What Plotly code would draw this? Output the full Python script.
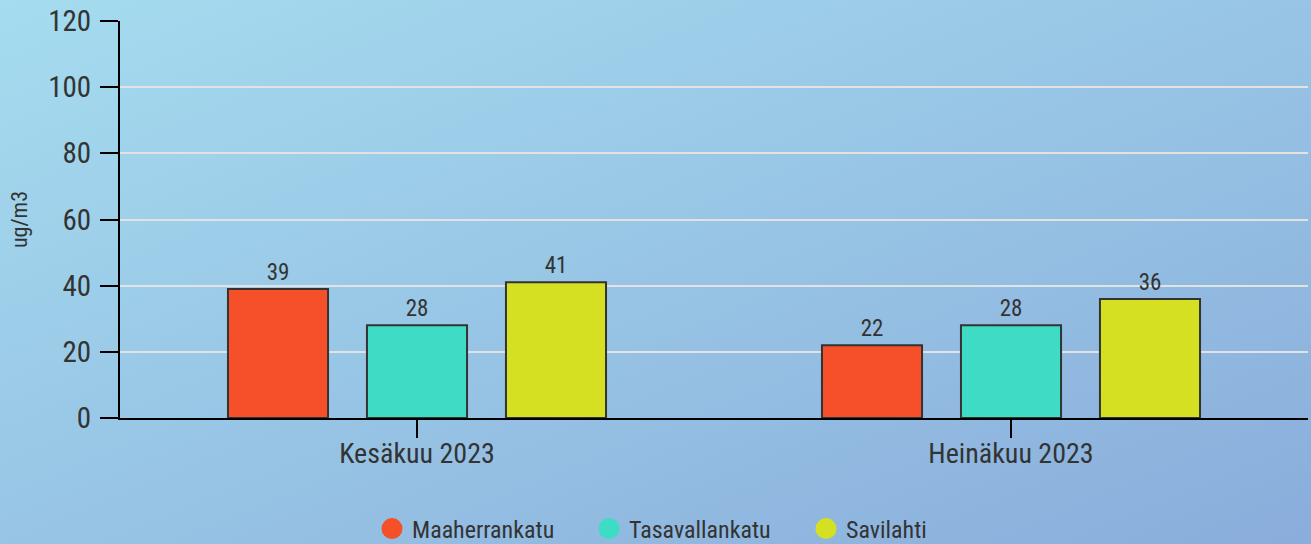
import plotly.graph_objects as go

categories = ["Kesäkuu 2023", "Heinäkuu 2023"]
series_names = ["Maaherrankatu", "Tasavallankatu", "Savilahti"]
series_values = [[39, 22], [28, 28], [41, 36]]
series_colors = ["#f5502a", "#3edcc4", "#d6e022"]
y_ticks = [0, 20, 40, 60, 80, 100, 120]

FONT = "Roboto Condensed, Liberation Sans Narrow, Roboto, sans-serif"

fig = go.Figure()
for name, vals, col in zip(series_names, series_values, series_colors):
    fig.add_trace(go.Bar(
        x=categories, y=vals, name=name, showlegend=False,
        marker=dict(color=col, line=dict(color="#333333", width=2)),
        text=[str(v) for v in vals], textposition="outside",
        textfont=dict(family=FONT, size=23, color="#333333"),
        cliponaxis=False,
    ))
for name, col in zip(series_names, series_colors):
    fig.add_trace(go.Scatter(
        x=[None], y=[None], mode="markers", name=name,
        marker=dict(color=col, size=22, symbol="circle", line=dict(color=col, width=5)),
    ))

svg = ("data:image/svg+xml;utf8,<svg xmlns='http://www.w3.org/2000/svg' width='1311' height='544'>"
       "<defs><linearGradient id='g' x1='0' y1='0' x2='1' y2='1'>"
       "<stop offset='0' stop-color='%23a5dcef'/><stop offset='1' stop-color='%238aaddb'/>"
       "</linearGradient></defs><rect width='1311' height='544' fill='url(%23g)'/></svg>")

fig.update_layout(
    width=1311, height=544,
    margin=dict(l=120, r=3, t=21, b=126, autoexpand=False),
    paper_bgcolor="#98c4e6", plot_bgcolor="rgba(0,0,0,0)",
    barmode="group", bargap=0.298, bargroupgap=0.28,
    font=dict(family=FONT, color="#333333"),
    images=[dict(source=svg, xref="paper", yref="paper", x=-120/1188, y=1 + 21/397,
                 sizex=1311/1188, sizey=544/397, sizing="stretch", layer="below",
                 xanchor="left", yanchor="top")],
    legend=dict(orientation="h", x=(372 - 120) / 1188, xanchor="left",
                yref="container", y=(544 - 529) / 544, yanchor="middle",
                entrywidth=172, entrywidthmode="pixels",
                font=dict(family=FONT, size=24, color="#333333"),
                itemsizing="trace", bgcolor="rgba(0,0,0,0)"),
    yaxis=dict(range=[0, 120], tickvals=y_ticks, showgrid=True, gridcolor="#e2e2e2", gridwidth=2,
               showline=True, linecolor="black", linewidth=2, ticks="outside", ticklen=18,
               tickcolor="black", tickwidth=2, zeroline=False, ticklabelstandoff=3,
               tickfont=dict(family=FONT, size=29, color="#333333"),
               title=dict(text="ug/m3", font=dict(family=FONT, size=22, color="#333333"), standoff=15)),
    xaxis=dict(showline=True, linecolor="black", linewidth=2, ticks="outside", ticklen=18,
               tickcolor="black", tickwidth=2, showgrid=False, ticklabelstandoff=-9,
               tickfont=dict(family=FONT, size=28, color="#333333")),
)

fig.write_html("out.html", config={"displayModeBar": False},
               post_script="document.body.style.margin='0';document.body.style.overflow='hidden';")
